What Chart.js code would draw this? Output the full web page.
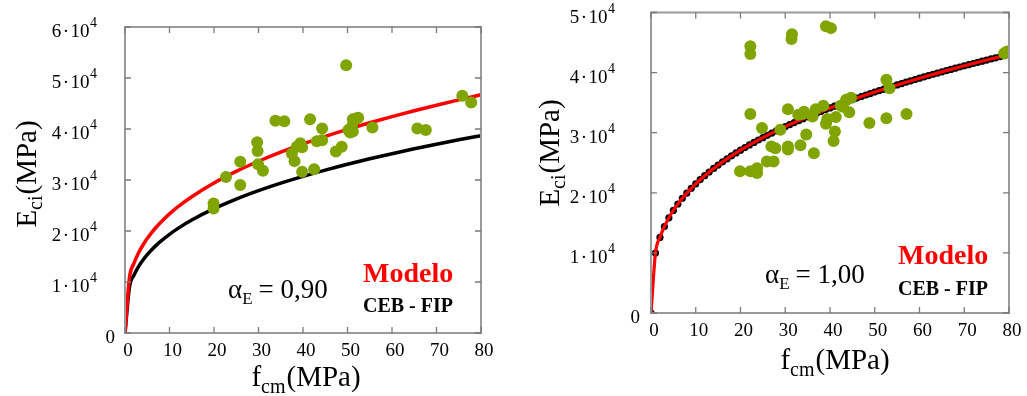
<!DOCTYPE html>
<html>
<head>
<meta charset="utf-8">
<script src="https://cdn.jsdelivr.net/npm/chart.js@4"></script>
<style>
  html, body { margin: 0; padding: 0; background: #ffffff; }
  #wrap { position: relative; width: 1027px; height: 396px; overflow: hidden; background: #fff; }
  canvas { position: absolute; top: 0; }
</style>
</head>
<body>
<div id="wrap">
  <canvas id="left" width="510" height="396" style="left:0px"></canvas>
  <canvas id="right" width="517" height="396" style="left:510px"></canvas>
</div>
<script>
// ---------------- DATA ----------------
const xTicks = [0, 10, 20, 30, 40, 50, 60, 70, 80];
const leftYTicks = [0, 1, 2, 3, 4, 5, 6];   // ×10^4
const rightYTicks = [0, 1, 2, 3, 4, 5];     // ×10^4

// Left panel (alpha_E = 0,90): experimental points
const leftFcm = [19.9, 19.9, 22.7, 25.9, 25.9, 29.7, 29.8, 29.9, 31.0, 33.8, 35.8, 37.5, 38.1, 38.6, 39.4, 39.8, 39.8,
  41.6, 42.5, 43.1, 44.3, 44.3, 47.4, 48.7, 49.7, 50.2, 51.0, 51.2, 52.1, 51.2, 55.6, 65.7, 67.6, 75.8, 77.8, 50.6, 52.4];
const leftEci = [25400, 24400, 30600, 33600, 29000, 37400, 35700, 33100, 31800, 41600, 41500, 35200, 33700, 36500, 37200, 36400, 31600,
  41900, 32100, 37600, 37800, 40100, 35600, 36500, 52500, 39800, 40500, 41900, 42100, 39500, 40300, 40100, 39800, 46500, 45200, 39300, 42200];

// Left panel curves
const leftCurveFcm = [0, 1, 2, 3, 4, 5, 6, 7, 8, 10, 12, 15, 20, 25, 30, 35, 40, 45, 50, 55, 60, 65, 70, 75, 80];
const leftModelo = [0, 10839, 13655, 15630, 17204, 18533, 19693, 20733, 21676, 23350, 24814, 26729, 29419, 31691, 33675, 35452,
  37066, 38551, 39929, 41217, 42429, 43578, 44666, 45705, 46700];
const leftCEB = [0, 8982, 11316, 12953, 14257, 15358, 16320, 17181, 17963, 19350, 20563, 22150, 24379, 26262, 27907, 29379,
  30716, 31947, 33089, 34157, 35161, 36113, 37015, 37876, 38700];

// Right panel (alpha_E = 1,00): experimental points
const rightFcm = [22.2, 22.2, 22.2, 19.9, 22.2, 23.7, 23.7, 24.8, 25.9, 26.9, 27.4, 27.8, 28.9, 30.6, 30.6, 30.6, 31.5, 31.4,
  32.9, 34.2, 34.7, 33.4, 36.4, 36.1, 36.8, 38.5, 39.1, 39.4, 39.1, 40.2, 41.1, 40.8, 41.3, 42.4, 43.6, 44.3, 44.7,
  48.8, 52.6, 53.3, 52.6, 57.1, 78.9, 79.6, 42.9, 33.8];
const rightEci = [44400, 43100, 33100, 23600, 23600, 24100, 23300, 30800, 25200, 27700, 25200, 27400, 30500, 33900, 27700, 27200, 46400, 45600,
  33000, 33500, 29700, 27900, 26600, 32700, 33900, 34500, 31500, 32300, 47700, 47400, 30200, 28600, 32600, 34500, 35500, 33400, 35800,
  31600, 38800, 37400, 32400, 33100, 43200, 43500, 34300, 33100];

// Right panel curves
const rightModeloFcm = [0, 1, 2, 3, 4, 5, 6, 7, 8, 10, 12, 15, 20, 25, 30, 35, 40, 45, 50, 55, 60, 65, 70, 75, 80];
const rightModelo = [0, 9980, 12573, 14392, 15841, 17065, 18133, 19090, 19958, 21500, 22848, 24611, 27088, 29180, 31007, 32643,
  34129, 35497, 36765, 37952, 39068, 40125, 41127, 42084, 43000];
const rightCEBFcm = [0, 1, 2, 3, 4, 5, 6, 7, 8, 9, 10, 11, 12, 13, 14, 15, 16, 17, 18, 19, 20, 21, 22, 23, 24, 25, 26, 27, 28, 29,
  30, 31, 32, 33, 34, 35, 36, 37, 38, 39, 40, 41, 42, 43, 44, 45, 46, 47, 48, 49, 50, 51, 52, 53, 54, 55, 56, 57, 58, 59,
  60, 61, 62, 63, 64, 65, 66, 67, 68, 69, 70, 71, 72, 73, 74, 75, 76, 77, 78, 79, 80];
const rightCEB = [0, 9979, 12573, 14392, 15841, 17065, 18134, 19090, 19959, 20758, 21500, 22194, 22847, 23465, 24051, 24611,
  25146, 25660, 26153, 26629, 27088, 27532, 27962, 28380, 28786, 29180, 29564, 29938, 30303, 30660, 31008, 31349, 31683,
  32009, 32329, 32644, 32951, 33253, 33551, 33842, 34130, 34411, 34688, 34962, 35230, 35496, 35756, 36014, 36267, 36518,
  36764, 37008, 37248, 37486, 37720, 37952, 38180, 38406, 38629, 38850, 39068, 39284, 39498, 39709, 39918, 40124, 40329,
  40531, 40733, 40931, 41128, 41322, 41516, 41706, 41896, 42085, 42270, 42455, 42639, 42819, 43000];

// ---------------- HELPERS ----------------
const SERIF = '"Liberation Serif", "Times New Roman", serif';
const GREEN = '#80a400';
const FRAME = '#9a9a9a';

function pts(xs, ys) { return xs.map((x, i) => ({ x: x, y: ys[i] })); }

function drawSubText(ctx, parts, x, y) {
  let cx = x;
  for (const p of parts) {
    ctx.font = (p.bold ? 'bold ' : '') + p.size + 'px ' + SERIF;
    ctx.fillStyle = p.color || '#000';
    ctx.textAlign = 'left';
    ctx.textBaseline = 'alphabetic';
    ctx.fillText(p.t, cx, y + (p.dy || 0));
    cx += ctx.measureText(p.t).width + (p.gap || 0);
  }
  return cx - x;
}
function measureParts(ctx, parts) {
  let w = 0;
  for (const p of parts) {
    ctx.font = (p.bold ? 'bold ' : '') + p.size + 'px ' + SERIF;
    w += ctx.measureText(p.t).width + (p.gap || 0);
  }
  return w;
}

function decoPlugin(cfg) {
  return {
    id: 'deco',
    afterDatasetsDraw(chart) {
      const ctx = chart.ctx;
      const xs = chart.scales.x, ys = chart.scales.y;
      const a = chart.chartArea;
      ctx.save();
      // frame
      ctx.strokeStyle = FRAME;
      ctx.lineWidth = 2;
      ctx.strokeRect(a.left, a.top, a.right - a.left, a.bottom - a.top);
      // inward ticks
      ctx.lineWidth = 1.3;
      ctx.strokeStyle = '#7a7a7a';
      const L = 6;
      ctx.beginPath();
      for (const v of xTicks) {
        const px = xs.getPixelForValue(v);
        ctx.moveTo(px, a.bottom); ctx.lineTo(px, a.bottom - L);
        ctx.moveTo(px, a.top); ctx.lineTo(px, a.top + L);
      }
      for (const k of cfg.yTicks) {
        const py = ys.getPixelForValue(k * 10000);
        ctx.moveTo(a.left, py); ctx.lineTo(a.left + L, py);
        ctx.moveTo(a.right, py); ctx.lineTo(a.right - L, py);
      }
      ctx.stroke();

      // x tick labels
      ctx.fillStyle = '#000';
      ctx.font = '19px ' + SERIF;
      ctx.textAlign = 'center';
      ctx.textBaseline = 'alphabetic';
      for (const v of xTicks) {
        ctx.fillText(String(v), xs.getPixelForValue(v) + 3, a.bottom + 23);
      }
      // y tick labels
      for (const k of cfg.yTicks) {
        const py = ys.getPixelForValue(k * 10000);
        const base = py + 10;
        if (k === 0) {
          ctx.font = '19px ' + SERIF;
          ctx.textAlign = 'right';
          ctx.fillText('0', cfg.zeroRight, base);
          continue;
        }
        ctx.textAlign = 'right';
        let xr = cfg.labelRight;
        ctx.font = '14px ' + SERIF;
        ctx.fillText('4', xr, base - 10);
        xr -= ctx.measureText('4').width + 0.5;
        ctx.font = '19px ' + SERIF;
        ctx.fillText('10', xr, base);
        xr -= ctx.measureText('10').width + 1.5;
        ctx.fillText('\u00B7', xr, base);
        xr -= ctx.measureText('\u00B7').width + 1.5;
        ctx.fillText(String(k), xr, base);
      }

      // y axis title (rotated)
      const yParts = [
        { t: 'E', size: 29 },
        { t: 'ci', size: 20, dy: 6, gap: 1 },
        { t: '(MPa)', size: 29 }
      ];
      ctx.save();
      ctx.translate(cfg.yTitleX, cfg.yTitleY);
      ctx.rotate(-Math.PI / 2);
      const wy = measureParts(ctx, yParts);
      drawSubText(ctx, yParts, -wy / 2, 0);
      ctx.restore();

      // x axis title
      const xParts = [
        { t: 'f', size: 29 },
        { t: 'cm', size: 20, dy: 7, gap: 1 },
        { t: '(MPa)', size: 29 }
      ];
      const wx = measureParts(ctx, xParts);
      drawSubText(ctx, xParts, cfg.xTitleX - wx / 2, cfg.xTitleY);

      // alpha annotation
      drawSubText(ctx, [
        { t: '\u03B1', size: 27 },
        { t: 'E', size: 17, dy: 6, gap: 6 },
        { t: '= ' + cfg.alpha, size: 27 }
      ], cfg.alphaX, cfg.alphaY);

      // legend-like labels
      drawSubText(ctx, [{ t: 'Modelo', size: 28, bold: true, color: '#ff0000' }], cfg.legX, cfg.modeloY);
      drawSubText(ctx, [{ t: 'CEB - FIP', size: 20, bold: true, color: '#000' }], cfg.legX, cfg.cebY);
      ctx.restore();
    }
  };
}

function makeChart(id, datasets, yMax, pad, yWidth, xHeight, cfg) {
  return new Chart(document.getElementById(id), {
    type: 'scatter',
    data: { datasets: datasets },
    options: {
      responsive: false,
      animation: false,
      devicePixelRatio: 1,
      layout: { padding: pad },
      plugins: { legend: { display: false }, tooltip: { enabled: false } },
      scales: {
        x: {
          type: 'linear', min: 0, max: 80,
          grid: { display: false }, border: { display: false },
          ticks: { display: false },
          afterFit(s) { s.height = xHeight; }
        },
        y: {
          type: 'linear', min: 0, max: yMax,
          grid: { display: false }, border: { display: false },
          ticks: { display: false },
          afterFit(s) { s.width = yWidth; }
        }
      }
    },
    plugins: [decoPlugin(cfg)]
  });
}

// ---------------- LEFT CHART ----------------
makeChart('left', [
  { label: 'Experimental', data: pts(leftFcm, leftEci), showLine: false,
    pointRadius: 6, pointBackgroundColor: GREEN, pointBorderWidth: 0, pointBorderColor: GREEN },
  { label: 'Modelo', data: pts(leftCurveFcm, leftModelo), showLine: true, borderColor: '#ff0000',
    borderWidth: 3.5, pointRadius: 0, cubicInterpolationMode: 'monotone', fill: false },
  { label: 'CEB - FIP', data: pts(leftCurveFcm, leftCEB), showLine: true, borderColor: '#000000',
    borderWidth: 3.5, pointRadius: 0, cubicInterpolationMode: 'monotone', fill: false }
], 60000, { left: 0, top: 27, right: 29, bottom: 0 }, 125, 63, {
  yTicks: leftYTicks, labelRight: 97, zeroRight: 115,
  yTitleX: 36, yTitleY: 174, xTitleX: 306, xTitleY: 386,
  alpha: '0,90', alphaX: 228, alphaY: 298,
  legX: 363, modeloY: 282, cebY: 312
});

// ---------------- RIGHT CHART ----------------
makeChart('right', [
  { label: 'Experimental', data: pts(rightFcm, rightEci), showLine: false,
    pointRadius: 6, pointBackgroundColor: GREEN, pointBorderWidth: 0, pointBorderColor: GREEN },
  { label: 'Modelo', data: pts(rightModeloFcm, rightModelo), showLine: true, borderColor: '#ff0000',
    borderWidth: 3.2, pointRadius: 0, cubicInterpolationMode: 'monotone', fill: false },
  { label: 'CEB - FIP', data: pts(rightCEBFcm, rightCEB), showLine: false,
    pointRadius: 3.6, pointBackgroundColor: '#000000', pointBorderWidth: 0, pointBorderColor: '#000000' }
], 50000, { left: 0, top: 12.5, right: 18, bottom: 0 }, 141, 83, {
  yTicks: rightYTicks, labelRight: 105, zeroRight: 130,
  yTitleX: 49, yTitleY: 153, xTitleX: 325, xTitleY: 369,
  alpha: '1,00', alphaX: 255, alphaY: 283,
  legX: 388, modeloY: 264, cebY: 295
});
</script>
</body>
</html>
